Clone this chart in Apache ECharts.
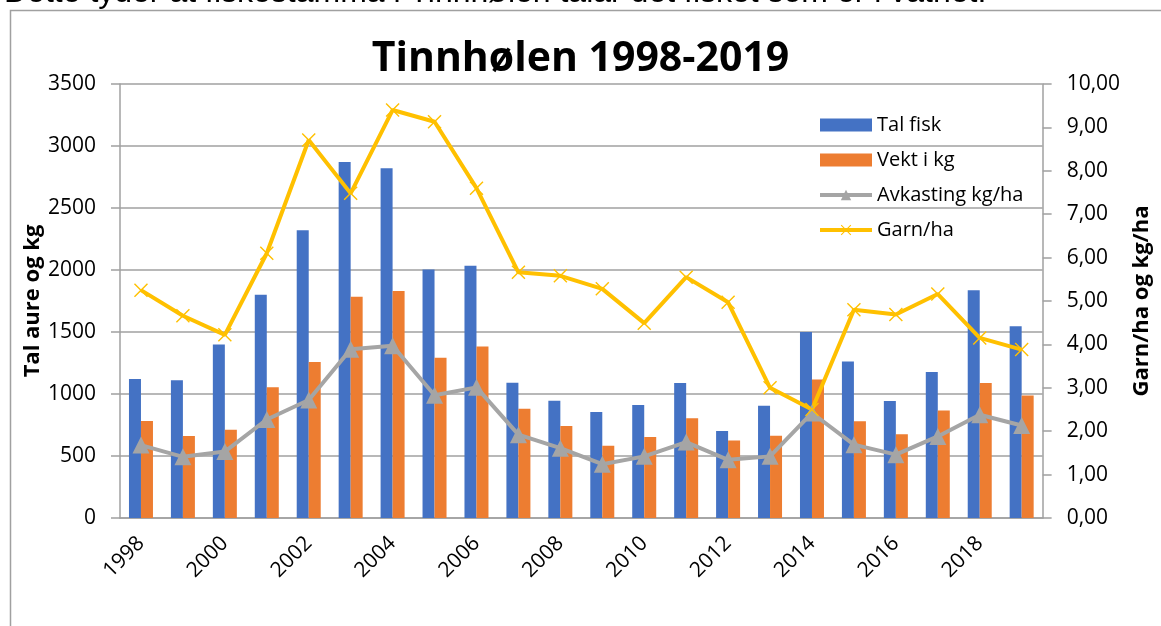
<!DOCTYPE html>
<html>
<head>
<meta charset="utf-8">
<script src="https://cdn.jsdelivr.net/npm/echarts@6/dist/echarts.min.js"></script>
<style>
html,body{margin:0;padding:0;background:#fff;}
#c{width:1161px;height:626px;}
</style>
</head>
<body>
<div id="c"></div>
<script>
const years = ['1998','1999','2000','2001','2002','2003','2004','2005','2006','2007','2008','2009','2010','2011','2012','2013','2014','2015','2016','2017','2018','2019'];
const talFisk = [1120,1110,1400,1800,2320,2870,2820,2005,2035,1090,946,855,911,1089,702,906,1500,1263,944,1177,1836,1546];
const vektKg = [782,661,712,1054,1258,1785,1831,1293,1383,882,742,583,653,804,626,664,1116,780,675,866,1089,987];
const avkasting = [1.68,1.41,1.53,2.27,2.72,3.89,3.97,2.83,3.01,1.92,1.61,1.24,1.42,1.75,1.34,1.42,2.42,1.69,1.46,1.88,2.38,2.13];
const garnHa = [5.25,4.66,4.22,6.10,8.71,7.48,9.40,9.13,7.60,5.66,5.58,5.28,4.49,5.55,4.97,3.00,2.50,4.80,4.69,5.16,4.15,3.88];
const leftAxisName = 'Tal aure og kg';
const rightAxisName = 'Garn/ha og kg/ha';

const FONT = 'Open Sans';
const crossPath = 'path://M0,1 L1,0 L7,6 L13,0 L14,1 L8,7 L14,13 L13,14 L7,8 L1,14 L0,13 L6,7 Z';
const chart = echarts.init(document.getElementById('c'));
chart.setOption({
  animation: false,
  textStyle: {fontFamily: FONT},
  title: {
    text: 'Tinnhølen 1998-2019',
    left: 'center',
    top: 34,
    textStyle: {fontFamily: FONT, fontSize: 41, fontWeight: 'bold', color: '#000'}
  },
  graphic: [
    {type: 'rect', shape: {x: 10.5, y: 10.5, width: 1200, height: 700}, style: {fill: 'none', stroke: '#a0a0a0', lineWidth: 1.5}, silent: true},
    {type: 'text', left: 4, top: -23, style: {text: 'Dette tyder at fiskestamma i Tinnhølen talar det fisket som er i vatnet.', font: '32px "Liberation Sans"', fill: '#000'}},
    {type: 'text', x: 33, y: 301, rotation: Math.PI / 2, z: 10,
      style: {text: leftAxisName, font: 'bold 22px "Open Sans"', fill: '#000', align: 'center', verticalAlign: 'middle'}}
  ],
  legend: {
    orient: 'vertical',
    left: 813,
    top: 110,
    itemWidth: 52,
    itemHeight: 13,
    itemGap: 15,
    textStyle: {fontFamily: FONT, fontSize: 20, color: '#000'},
    data: [
      {name: 'Tal fisk', icon: 'rect'},
      {name: 'Vekt i kg', icon: 'rect'},
      {name: 'Avkasting kg/ha', lineStyle: {width: 4}},
      {name: 'Garn/ha', lineStyle: {width: 4}}
    ]
  },
  grid: {left: 120, right: 106, top: 84, bottom: 108},
  xAxis: {
    type: 'category',
    data: years,
    boundaryGap: true,
    axisLine: {lineStyle: {color: '#a0a0a0', width: 1.5}},
    axisTick: {interval: 0, length: 8, lineStyle: {color: '#a0a0a0', width: 1.5}},
    axisLabel: {interval: 1, rotate: 45, margin: 22, fontFamily: FONT, fontSize: 21, color: '#000'}
  },
  yAxis: [
    {
      type: 'value', min: 0, max: 3500, interval: 500,
      axisLine: {show: true, lineStyle: {color: '#a0a0a0', width: 1.5}},
      axisTick: {show: true, length: 9, lineStyle: {color: '#a0a0a0', width: 1.5}},
      axisLabel: {margin: 24, fontFamily: FONT, fontSize: 21, color: '#000', formatter: v => String(v)},
      splitLine: {lineStyle: {color: '#a0a0a0', width: 1.5}}
    },
    {
      type: 'value', min: 0, max: 10, interval: 1, position: 'right',
      name: rightAxisName, nameLocation: 'middle', nameGap: 84, nameRotate: 90,
      nameTextStyle: {fontFamily: FONT, fontSize: 22, fontWeight: 'bold', color: '#000'},
      axisLine: {show: true, lineStyle: {color: '#a0a0a0', width: 1.5}},
      axisTick: {show: true, length: 9, lineStyle: {color: '#a0a0a0', width: 1.5}},
      axisLabel: {margin: 24, fontFamily: FONT, fontSize: 21, color: '#000', formatter: v => v.toFixed(2).replace('.', ',')},
      splitLine: {show: false}
    }
  ],
  series: [
    {name: 'Tal fisk', type: 'bar', data: talFisk, barWidth: 12, barGap: '0%', itemStyle: {color: '#4472C4'}},
    {name: 'Vekt i kg', type: 'bar', data: vektKg, barWidth: 12, barGap: '0%', itemStyle: {color: '#ED7D31'}},
    {name: 'Avkasting kg/ha', type: 'line', yAxisIndex: 1, data: avkasting, symbol: 'triangle', symbolSize: 17,
      lineStyle: {color: '#A5A5A5', width: 4}, itemStyle: {color: '#A5A5A5'}},
    {name: 'Garn/ha', type: 'line', yAxisIndex: 1, data: garnHa, symbol: crossPath, symbolSize: 14,
      lineStyle: {color: '#FFC000', width: 4}, itemStyle: {color: '#FFC000'}}
  ]
});
</script>
</body>
</html>
